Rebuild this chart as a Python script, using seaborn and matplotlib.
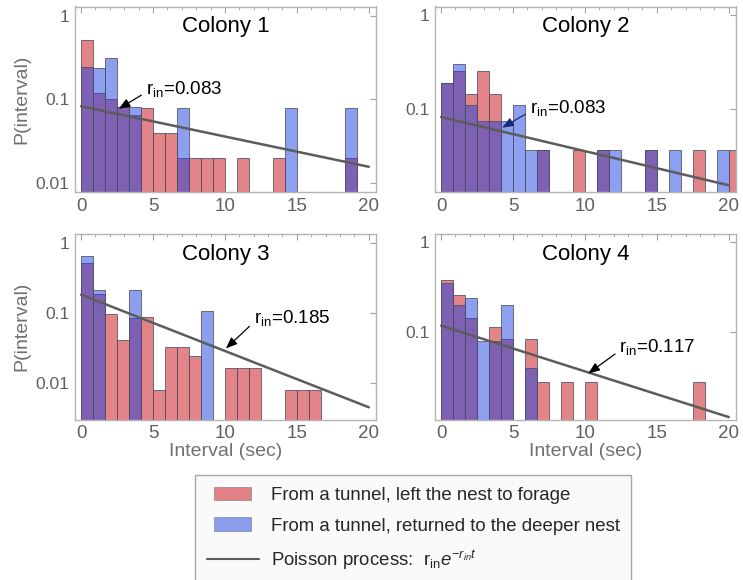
import numpy as np
import pandas as pd
import seaborn as sns
import matplotlib.pyplot as plt
from matplotlib.patches import Patch, Rectangle
from matplotlib.lines import Line2D
from matplotlib.legend_handler import HandlerPatch
from matplotlib.ticker import FixedLocator, MultipleLocator, NullLocator

sns.set_theme(style="white")
plt.rcParams["font.family"] = ["Liberation Sans", "DejaVu Sans"]
plt.rcParams["mathtext.fontset"] = "custom"
plt.rcParams["mathtext.rm"] = "Liberation Sans"
plt.rcParams["mathtext.it"] = "Liberation Sans:italic"

# histogram bins (sec), 25 bins of 5/6 s starting at 0
bin_width = 5 / 6
n_bins = 25

# P(interval) per bin, "left the nest to forage" (red) / "returned to the deeper nest" (blue)
c1_forage = [0.51, 0.119, 0.10, 0.081, 0.065, 0.08, 0.04, 0.04, 0.02, 0.02, 0.02, 0.02, 0,
             0.02, 0, 0, 0.02, 0, 0, 0, 0, 0, 0.02, 0, 0]
c1_return = [0.243, 0.236, 0.313, 0.081, 0.081, 0, 0, 0, 0.08, 0, 0, 0, 0,
             0, 0, 0, 0, 0.08, 0, 0, 0, 0, 0.08, 0, 0]
c2_forage = [0.188, 0.253, 0.144, 0.253, 0.144, 0, 0, 0, 0.037, 0, 0, 0.037, 0,
             0.037, 0, 0, 0, 0.037, 0, 0, 0, 0.037, 0, 0, 0.037]
c2_return = [0.188, 0.298, 0.111, 0.075, 0.075, 0.075, 0.111, 0.037, 0.037, 0, 0, 0, 0,
             0.037, 0.037, 0, 0, 0.037, 0, 0.037, 0, 0, 0, 0.037, 0]
c3_forage = [0.53, 0.19, 0.098, 0.042, 0.085, 0.09, 0.0082, 0.033, 0.033, 0.025, 0, 0, 0.0164,
             0.0164, 0.0164, 0, 0, 0.0082, 0.0082, 0.0082, 0, 0, 0, 0, 0]
c3_return = [0.66, 0.215, 0, 0, 0.215, 0, 0, 0, 0, 0, 0.109, 0, 0,
             0, 0, 0, 0, 0, 0, 0, 0, 0, 0, 0, 0]
c4_forage = [0.375, 0.256, 0.141, 0, 0.112, 0.083, 0, 0.083, 0.028, 0, 0.028, 0, 0.028,
             0, 0, 0, 0, 0, 0, 0, 0, 0.028, 0, 0, 0]
c4_return = [0.345, 0.198, 0.235, 0.079, 0.079, 0.198, 0, 0.04, 0, 0, 0, 0, 0,
             0, 0, 0, 0, 0, 0, 0, 0, 0, 0, 0, 0]

colonies = ["Colony 1", "Colony 2", "Colony 3", "Colony 4"]
rates = [0.083, 0.083, 0.185, 0.117]
forage = [c1_forage, c2_forage, c3_forage, c4_forage]
returned = [c1_return, c2_return, c3_return, c4_return]
ylims = [(0.0079, 1.28), (0.0134, 1.22), (0.00306, 1.36), (0.0106, 1.22)]
# (arrow head, text position) for the r_in labels
notes = [((2.62, 0.0775), (4.5, 0.135)),
         ((4.25, 0.064), (6.15, 0.104)),
         ((10.07, 0.0316), (12.0, 0.085)),
         ((10.24, 0.0345), (12.4, 0.068))]
arrow_cols = ["black", "#1a2a7a", "black", "black"]

red = (0.79, 0.04, 0.07)
blue = (0.11, 0.25, 0.88)
edge = (0.3, 0.3, 0.38)
gray_line = "#5c5c5c"
frame_col = "#b4b4b4"
tick_txt = "#606060"

edges = list(np.arange(n_bins + 1) * bin_width)
centers = [e + bin_width / 2 for e in edges[:-1]]

fig = plt.figure(figsize=(7.43, 5.80), dpi=100)
W, H = 743, 580
boxes = [(75, 6.5), (435, 6.5), (75, 234), (435, 234)]
ax_w, ax_h = 301, 185.5

for i, (x0, top) in enumerate(boxes):
    ax = fig.add_axes([x0 / W, 1 - (top + ax_h) / H, ax_w / W, ax_h / H])
    for vals, col in [(forage[i], red), (returned[i], blue)]:
        df = pd.DataFrame({"t": centers, "p": vals})
        df = df[df["p"] > 0]
        sns.histplot(data=df, x="t", weights="p", bins=edges, ax=ax,
                     color=col, alpha=0.5, edgecolor=edge, linewidth=0.55)
    for p in list(ax.patches):
        if p.get_height() <= 0:
            p.remove()

    r = rates[i]
    t = np.linspace(0, 20, 60)
    sns.lineplot(x=t, y=r * np.exp(-r * t), ax=ax, color=gray_line, lw=1.8)

    ax.set_yscale("log")
    ax.set_xlim(-0.42, 20.5)
    ax.set_ylim(*ylims[i])

    yt = [v for v in [0.01, 0.1, 1] if ylims[i][0] <= v <= ylims[i][1]]
    ax.yaxis.set_major_locator(FixedLocator(yt))
    ax.set_yticklabels([("%g" % v) for v in yt])
    ax.yaxis.set_minor_locator(NullLocator())
    ax.xaxis.set_major_locator(FixedLocator([0, 5, 10, 15, 20]))
    ax.xaxis.set_minor_locator(MultipleLocator(1))
    ax.tick_params(which="both", direction="in", top=True, right=True, color="#a0a0a0",
                   labelcolor=tick_txt, labelsize=12.5, pad=4)
    ax.tick_params(axis="x", labelsize=13.5)
    ax.tick_params(which="major", length=4, width=0.8)
    ax.tick_params(which="minor", length=2.2, width=0.6)
    for s in ax.spines.values():
        s.set_color(frame_col)
        s.set_linewidth(1.0)

    ax.text(0.5, 0.892, colonies[i], transform=ax.transAxes, ha="center", va="center",
            fontsize=16, color="black")

    head, txt = notes[i]
    ax.annotate(r"$\mathregular{r_{in}}$=%.3f" % r, xy=head, xytext=txt,
                ha="left", va="center", fontsize=13.5, color="black",
                arrowprops=dict(arrowstyle="-|>,head_length=0.5,head_width=0.2",
                                color=arrow_cols[i], lw=0.9, relpos=(0, 0.3),
                                shrinkA=1, shrinkB=0))

    ax.set_ylabel("P(interval)" if i in (0, 2) else "", fontsize=14, color="#707070",
                  labelpad=4)
    ax.set_xlabel("Interval (sec)" if i in (2, 3) else "", fontsize=14, color="#707070",
                  labelpad=1)


def narrow_patch(legend, orig_handle, xdescent, ydescent, width, height, fontsize):
    inset = width * 0.15
    return Rectangle((-xdescent + inset, -ydescent), width - 2 * inset, height)


handles = [
    Patch(facecolor=red, alpha=0.5, edgecolor=edge, linewidth=0.55),
    Patch(facecolor=blue, alpha=0.5, edgecolor=edge, linewidth=0.55),
    Line2D([], [], color=gray_line, lw=1.5),
]
labels = [
    "From a tunnel, left the nest to forage",
    "From a tunnel, returned to the deeper nest",
    r"Poisson process:  $\mathregular{r_{in}}e^{-r_{in}t}$",
]
leg = fig.legend(handles, labels, loc="upper left", bbox_to_anchor=(195 / W, 1 - 475 / H),
                 frameon=True, fancybox=False, fontsize=13.4, handlelength=2.8,
                 handleheight=0.75, labelspacing=0.72, borderpad=0.62, handletextpad=0.65,
                 borderaxespad=0, facecolor="#fafafa", framealpha=1,
                 handler_map={Patch: HandlerPatch(patch_func=narrow_patch)})
leg.get_frame().set_edgecolor("#a8a8a8")
leg.get_frame().set_linewidth(1.0)

fig.savefig("out.png", dpi=100)
